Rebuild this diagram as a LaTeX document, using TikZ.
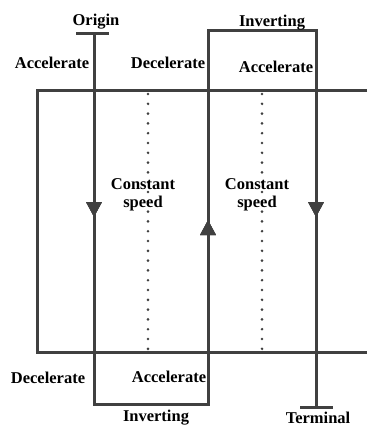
\documentclass[tikz,border=0pt]{standalone}
\usepackage{fontspec}
\setmainfont{Liberation Serif}
\usetikzlibrary{arrows.meta,positioning,decorations.markings}
\definecolor{pathgray}{HTML}{404040}
\tikzset{
	lbl/.style = {font=\fontsize{16.5}{18.5}\selectfont\bfseries, inner sep=0pt, align=center},
	track/.style = {draw=pathgray, line width=3pt},
	route/.style = {draw=pathgray, line width=3pt, line join=miter},
	tipat/.style = {postaction={decorate}, decoration={markings,
		mark=at position #1 with {\arrow[pathgray]{Triangle[length=15pt,width=15pt]}}}},
	midline/.style = {draw=pathgray, line width=2.9pt, line cap=round,
		dash pattern=on 0pt off 9.8pt}
}
\begin{document}
\begin{tikzpicture}[x=1pt,y=-1pt]
\useasboundingbox (0,0) rectangle (367,428);
% frame of the track
\coordinate (tl) at (37,90);
\coordinate (bl) at (37,352);
\draw[track] (367,90) -- (tl) -- (bl) -- (367,352);
% centre lines of the constant speed parts
\draw[midline] (148,94) -- (148,352);
\draw[midline] (262,94) -- (262,352);
% route from origin to terminal
\coordinate (org) at (94,34);
\coordinate (inv1) at (94,404);
\coordinate (inv2) at (208,404);
\coordinate (inv3) at (208,31);
\coordinate (inv4) at (316,31);
\coordinate (term) at (316,407);
\draw[route] (76,34) -- (109,34);
\draw[route,tipat=183pt,tipat=668pt,tipat=1151pt]
	(org) -- (inv1) -- (inv2) -- (inv3) -- (inv4) -- (term);
\draw[route] (300,407) -- (333,407);
% labels
\node[lbl] (origin) at (96,22) {Origin};
\node[lbl] (invtop) at (272,23) {Inverting};
\node[lbl] (acc1) at (52,63) {Accelerate};
\node[lbl] (dec1) at (168,63) {Decelerate};
\node[lbl] (acc2) at (276,67) {Accelerate};
\node[lbl] (cs1) at (143,195) {Constant\\speed};
\node[lbl] (cs2) at (257,195) {Constant\\speed};
\node[lbl] (dec2) at (48,378) {Decelerate};
\node[lbl] (acc3) at (169,377) {Accelerate};
\node[lbl] (invbot) at (156,418) {Inverting};
\node[lbl] (termlbl) at (318,418) {Terminal};
\end{tikzpicture}
\end{document}
